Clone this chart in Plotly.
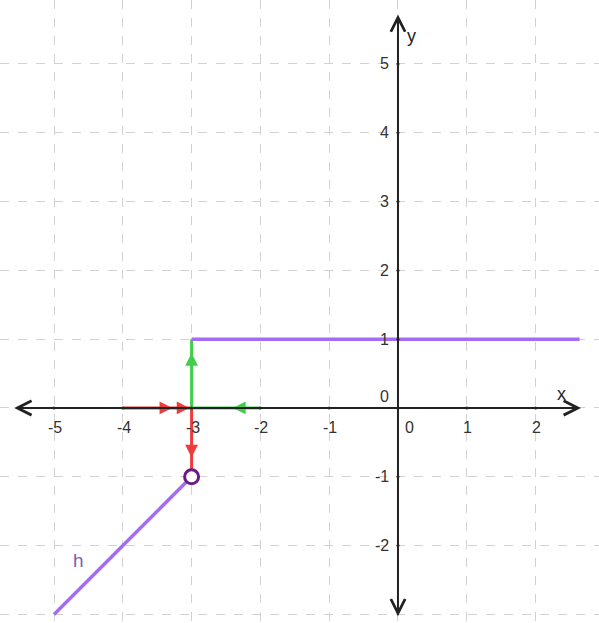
import plotly.graph_objects as go

# ---- data ----
x_ticks = [-5, -4, -3, -2, -1, 0, 1, 2]
x_tick_labels = ["-5", "-4", "-3", "-2", "-1", "0", "1", "2"]
y_ticks = [5, 4, 3, 2, 1, 0, -1, -2]
y_tick_labels = ["5", "4", "3", "2", "1", "0", "-1", "-2"]

h_x = [-5, -3]          # segment of h
h_y = [-3, -1]
flat_x = [-3, 2.64]     # constant piece y = 1
flat_y = [1, 1]
hole = (-3, -1)         # open circle

# vectors: (x0, y0, x1, y1)
red_h = (-4, 0, -3, 0)
green_h = (-2, 0, -3, 0)
green_v = (-3, 0, -3, 1)
red_v = (-3, 0, -3, -1)

PURPLE = "#a46cf0"
RED = "#ee3b3b"
GREEN = "#3fcf4a"

fig = go.Figure()

for seg, col in [(red_h, RED), (green_h, GREEN), (green_v, GREEN), (red_v, RED)]:
    fig.add_trace(go.Scatter(x=[seg[0], seg[2]], y=[seg[1], seg[3]], mode="lines",
                             line=dict(color=col, width=3), hoverinfo="skip"))

fig.add_trace(go.Scatter(x=h_x, y=h_y, mode="lines", line=dict(color=PURPLE, width=3.5),
                         hoverinfo="skip"))
fig.add_trace(go.Scatter(x=flat_x, y=flat_y, mode="lines", line=dict(color=PURPLE, width=3.5),
                         hoverinfo="skip"))

annotations = []
def head(seg, frac, col):
    x0, y0, x1, y1 = seg
    hx = x0 + (x1 - x0) * frac
    hy = y0 + (y1 - y0) * frac
    tx = x0 + (x1 - x0) * (frac - 0.1)
    ty = y0 + (y1 - y0) * (frac - 0.1)
    annotations.append(dict(x=hx, y=hy, ax=tx, ay=ty, xref="x", yref="y", axref="x", ayref="y",
                            showarrow=True, arrowhead=2, arrowsize=0.85, arrowwidth=3,
                            arrowcolor=col, standoff=0, text=""))

head(red_h, 0.72, RED)
head(red_h, 0.97, RED)
head(green_h, 0.4, GREEN)
head(green_v, 0.8, GREEN)
head(red_v, 0.72, RED)

annotations.append(dict(x=2.66, y=0, ax=-5.6, ay=0, xref="x", yref="y", axref="x", ayref="y",
                        showarrow=True, arrowhead=5, arrowside="end+start", arrowsize=1.4,
                        arrowwidth=2, arrowcolor="#222222", standoff=0, startstandoff=0, text=""))
annotations.append(dict(x=0, y=5.72, ax=0, ay=-3.05, xref="x", yref="y", axref="x", ayref="y",
                        showarrow=True, arrowhead=5, arrowside="end+start", arrowsize=1.4,
                        arrowwidth=2, arrowcolor="#222222", standoff=0, startstandoff=0, text=""))

fig.add_trace(go.Scatter(x=[hole[0]], y=[hole[1]], mode="markers",
                         marker=dict(size=14, color="white", line=dict(color="#6a1b84", width=3)),
                         hoverinfo="skip"))

font = dict(family="Liberation Sans, Arial, sans-serif", size=16, color="#333333")

for v, lab in zip(x_ticks, x_tick_labels):
    shift = 12 if v == 0 else 1
    annotations.append(dict(x=v, y=0, text=lab, showarrow=False, xref="x", yref="y",
                            xshift=shift, yshift=-20, font=font))
for v, lab in zip(y_ticks, y_tick_labels):
    ys = 11 if v == 0 else 0
    annotations.append(dict(x=0, y=v, text=lab, showarrow=False, xref="x", yref="y",
                            xanchor="right", xshift=-7, yshift=ys, font=font))

annotations.append(dict(x=0, y=5.4, text="y", showarrow=False, xshift=14,
                        font=dict(family="Liberation Sans, Arial, sans-serif", size=18, color="#222")))
annotations.append(dict(x=2.37, y=0, text="x", showarrow=False, yshift=14,
                        font=dict(family="Liberation Sans, Arial, sans-serif", size=18, color="#222")))
annotations.append(dict(x=-4.65, y=-2.21, text="h", showarrow=False,
                        font=dict(family="Liberation Sans, Arial, sans-serif", size=19, color="#8060b0")))

fig.add_trace(go.Scatter(x=x_ticks + [0] * len(y_ticks), y=[0] * len(x_ticks) + y_ticks,
                         mode="markers", marker=dict(size=3, color="#222222"), hoverinfo="skip"))

fig.update_layout(
    width=599, height=623, margin=dict(l=0, r=0, t=0, b=0),
    plot_bgcolor="white", paper_bgcolor="white", showlegend=False,
    annotations=annotations,
    xaxis=dict(range=[-5.785, 2.922], dtick=1, tick0=0, showgrid=True, gridcolor="#d2d2d2",
               griddash="dash", gridwidth=1, zeroline=False, showticklabels=False, ticks="",
               fixedrange=True),
    yaxis=dict(range=[-3.125, 5.93], dtick=1, tick0=0, showgrid=True, gridcolor="#d2d2d2",
               griddash="dash", gridwidth=1, zeroline=False, showticklabels=False, ticks="",
               fixedrange=True),
)

fig.write_html("out.html", config={"displayModeBar": False},
               post_script="document.body.style.margin='0px';")
